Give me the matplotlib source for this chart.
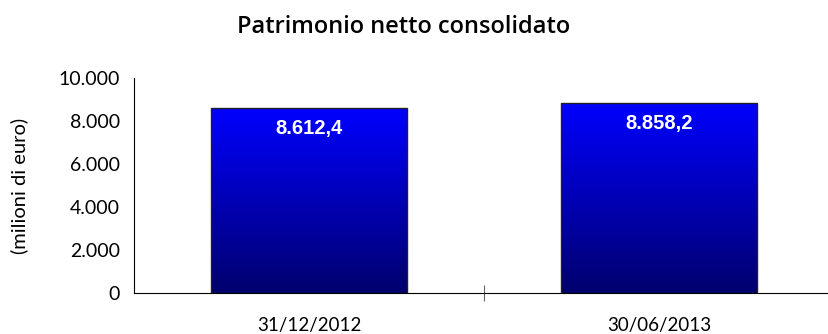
import numpy as np
import matplotlib.pyplot as plt
from matplotlib.colors import LinearSegmentedColormap
from matplotlib.ticker import FuncFormatter

categories = ["31/12/2012", "30/06/2013"]
values = [8612.4, 8858.2]
value_labels = ["8.612,4", "8.858,2"]
yticks = [0, 2000, 4000, 6000, 8000, 10000]

W, H = 829, 334
fig = plt.figure(figsize=(W / 100, H / 100), dpi=100)
# axes run past the right edge, like the original category axis
ax = fig.add_axes([134 / W, 1 - 293 / H, 700 / W, 215 / H])

x = np.arange(len(categories))
bar_w = 0.56
grad = LinearSegmentedColormap.from_list("blu", ["#00006e", "#0000ff"])
g = np.linspace(0, 1, 256).reshape(-1, 1)

bars = ax.bar(x, values, width=bar_w, color="none", edgecolor="#222222", linewidth=1.0, zorder=3)
for b, lab in zip(bars, value_labels):
    x0, y0 = b.get_x(), b.get_y()
    w, h = b.get_width(), b.get_height()
    im = ax.imshow(g, extent=[x0, x0 + w, y0, y0 + h], origin="lower",
                   aspect="auto", cmap=grad, zorder=2)
    im.set_clip_path(b)
    ax.text(x0 + w / 2, y0 + h - 980, lab, ha="center", va="center",
            color="white", fontsize=14.5, fontweight="bold",
            family="Liberation Sans", zorder=4)

ax.set_xlim(-0.5, len(categories) - 0.5)
ax.set_ylim(0, 10000)

for s in ["top", "right"]:
    ax.spines[s].set_visible(False)
ax.spines["left"].set_color("black")
ax.spines["bottom"].set_color("black")

ax.set_yticks(yticks)
ax.yaxis.set_major_formatter(FuncFormatter(lambda v, p: f"{int(v):,}".replace(",", ".")))
ax.tick_params(axis="y", length=0, pad=10, labelsize=14)
for t in ax.get_yticklabels():
    t.set_family("Lato")

# category boundary ticks
ax.set_xticks([0.5])
ax.set_xticklabels([""])
ax.tick_params(axis="x", which="major", direction="inout", length=11, color="#666666")
ax.set_xticks(x, minor=True)
ax.set_xticklabels(categories, minor=True, family="Lato", fontsize=13.5)
ax.tick_params(axis="x", which="minor", length=0, pad=17)

ax.set_ylabel("(milioni di euro)", family="Lato", fontsize=14.5)
ax.yaxis.set_label_coords(-106 / 700, 0.5)

fig.text(404 / W, 1 - 27 / H, "Patrimonio netto consolidato", ha="center", va="center",
         family="Open Sans", fontsize=17, fontweight="semibold")

fig.savefig("out.png", dpi=100)
